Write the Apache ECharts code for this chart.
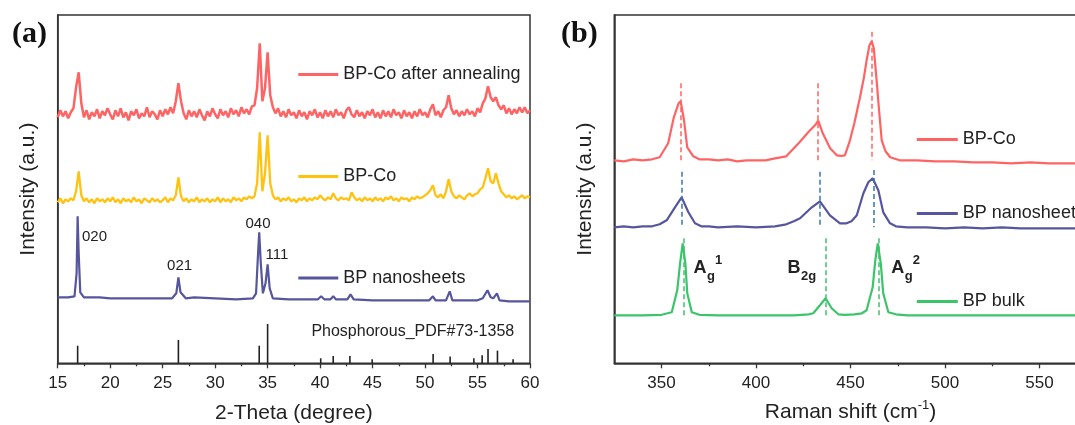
<!DOCTYPE html>
<html>
<head>
<meta charset="utf-8">
<script src="https://cdn.jsdelivr.net/npm/echarts@6/dist/echarts.min.js"></script>
<style>
html, body { margin: 0; padding: 0; background: #fff; overflow: hidden; }
#chart { width: 1075px; height: 425px; }
</style>
</head>
<body>
<div id="chart"></div>
<script>
// ---------- (a) XRD ----------
// intensities read on a 2-theta grid: 15 .. 60 every 0.25 deg
var xrdStart = 15
var xrdStep = 0.25
var xrdAnnealed = [
  246,253,247,252,245,251,255,276,291,260,246,253,244,251,247,254,245,252,248,255, // 15
  249,244,253,247,255,246,251,243,252,248,254,245,250,247,256,246,252,249,244,253, // 20
  247,254,249,256,250,262,280,262,250,244,253,247,252,246,254,248,243,252,247,255, // 25
  249,245,254,248,252,246,255,249,253,247,256,250,254,249,257,258,275,320,262,275, // 30
  311,268,256,250,255,247,252,246,254,248,251,245,253,247,251,244,252,248,254,246, // 35
  251,245,253,247,252,246,254,248,251,245,253,256,249,246,253,247,251,245,252,248, // 40
  254,246,251,245,253,247,252,246,254,248,251,245,253,247,251,245,252,247,254,248, // 45
  251,246,254,259,248,252,246,253,256,268,255,249,253,247,252,248,254,249,252,247, // 50
  255,251,260,265,277,266,262,266,258,254,258,250,255,249,254,250,256,251,256,250, // 55
  253
]
var xrdBPCo = [
  161,165,160,164,162,165,163,172,192,168,162,165,161,164,160,165,162,164,161,165,
  162,166,161,164,160,165,162,164,161,166,162,164,160,165,163,161,165,162,164,161,
  163,166,161,165,163,168,186,167,162,165,161,164,162,166,161,164,162,165,161,164,
  162,166,161,165,162,164,161,166,163,165,162,166,164,167,165,167,180,231,172,190,
  228,180,168,164,166,162,165,163,166,162,164,161,165,163,166,162,165,163,166,164,
  168,165,163,166,164,170,165,163,166,164,165,163,171,166,163,165,162,166,163,165,
  162,166,163,165,162,166,164,167,163,165,162,166,164,165,162,166,164,167,165,166,
  168,170,173,178,168,166,169,165,172,184,172,167,165,168,166,164,168,170,167,169,
  170,174,176,185,195,182,180,190,180,172,169,166,168,165,167,164,166,168,165,167,
  166
]
var xrdNanosheets = [
  [15,66],[16,66],[16.6,67],[16.8,90],[16.9,147],[17.0,110],[17.15,71],[17.5,66],[19,66],[20,65],
  [22,65],[24,65],[25.9,65],[26.3,70],[26.5,86],[26.7,71],[27.2,65],[28,66],[30,65],[32,64],
  [33.6,65],[33.9,70],[34.1,112],[34.2,131],[34.35,100],[34.55,70],[34.8,80],[35.0,99],[35.2,75],[35.5,65],
  [37,64],[39.8,64],[40.1,67],[40.4,64],[41.0,64],[41.25,67],[41.5,64],[42.6,64],[42.9,69],[43.2,64],
  [45,63],[48,63],[50.4,63],[50.75,67],[51,63],[52.0,63],[52.35,72],[52.6,63],[55,63],[55.5,65],
  [55.95,73],[56.25,66],[56.5,65],[56.85,70],[57.1,63],[58,62],[60,62]
]
var pdfSticks = [
  [16.9,17.6],[26.5,23.3],[34.2,17.6],[35.0,39.3],[40.06,5],[41.25,7.3],[42.84,7.3],[44.96,4],
  [50.77,9.3],[52.39,6.7],[54.65,5],[55.44,8],[56.0,14.3],[56.9,12.7],[58.39,4]
]
var xrdPeakNames = ['020', '021', '040', '111']
var xrdPeakLabelPos = [[18.51,126.3],[26.61,97.3],[34.08,139.3],[35.89,108.3]]
var pdfLabelPos = [39.17, 31.3]

// ---------- (b) Raman ----------
var ramanBPCo = [
  [325,203],[330,202],[335,204],[340,203],[345,204],[349,206],[353.5,220],[356.5,246],[359,260],[360.1,262],
  [361.9,243],[363.6,216],[366.8,207],[370,204],[375,204],[380,203],[385,204],[390,202],[395,203],[400,203],
  [405,203],[410,205],[416,207],[423,221],[427.6,231],[431.2,238],[432.9,242.6],[435.3,230],[439.2,215],[442.7,208],
  [445,207.5],[447,208],[449.7,223],[452,240],[455,266],[457,285],[458.5,303],[460,318],[461.2,322],[462.3,315],
  [463.8,283],[465,255],[466.5,223],[468.5,212],[471,206],[476,203],[485,203],[495,202],[505,202],[515,201],
  [525,201],[535,200],[545,201],[555,200],[565,200],[575,200]
]
var ramanNanosheets = [
  [325,136],[330,137],[335,136],[340,137],[345,137],[349,139],[352.7,143],[357.1,156],[360.6,166],[364.2,151],
  [367.7,140],[371,137],[375,137],[380,136],[390,137],[400,136],[410,137],[416,139],[420,142],[423.3,145],
  [429.5,156],[433.8,162],[439.1,148],[444.4,140],[447.9,140],[450.5,142],[453.3,148],[456.8,170],[459.4,181],[461.7,185],
  [464.7,173],[467.3,151],[470.9,140],[474,137],[480,136],[490,136],[500,135],[510,136],[520,135],[530,136],
  [540,135],[550,135],[560,135],[575,135]
]
var ramanBulk = [
  [325,48],[340,48],[350,48.5],[355.4,51],[358.3,73],[359.8,100],[361.2,120],[362.6,100],[363.6,70],[366,51],
  [370,48.5],[380,48],[400,48],[420,48],[428,49],[430.3,50],[433.8,58],[436.8,65],[440,55],[443.5,49],
  [447,48.5],[452,49],[456,50],[458.5,53],[461.7,76],[463.1,103],[464.4,120],[466,100],[467.3,70],[470,51],
  [474,49],[480,48],[500,48],[525,48],[550,48],[575,48]
]
// dashed guides: peak position, top, bottom
var guidesBPCo = [[360.4,280,203],[432.7,280,203],[461.2,331.6,203]]
var guidesNanosheets = [[360.8,191.6,136],[433.8,191.6,136],[462.1,193.3,136]]
var guidesBulk = [[361.5,125,47],[436.8,125,47],[464.8,125,47]]
// Raman mode labels: main letter, subscript, superscript, position
var modeLabels = [
  ['A', 'g', '1', 366.9, 95.3],
  ['B', '2g', '', 416.6, 95.3],
  ['A', 'g', '2', 471.6, 95.3]
]
var ramanTicks = [350, 400, 450, 500, 550]
var ramanMinorTicks = [375, 425, 475, 525]

var RED = '#FF6464', YEL = '#FFC20E', BLU = '#56569E', GRN = '#3CC46A', DBLU = '#3B74B8'
var FONT = '"Liberation Sans", Arial, sans-serif'
var AX = '#333'

function onGrid(arr) {
  return arr.map(function (v, i) { return [xrdStart + i * xrdStep, v] })
}
function guideLines(g) {
  return g.map(function (d) { return [{ coord: [d[0], d[1]] }, { coord: [d[0], d[2]] }] })
}
function lineSeries(name, data, color, width, xi, yi) {
  return {
    name: name, type: 'line', data: data, xAxisIndex: xi, yAxisIndex: yi,
    symbol: 'none', lineStyle: { color: color, width: width }, itemStyle: { color: color },
    z: 3
  }
}
function legendAt(name, left, yc, w, fmt) {
  var l = {
    data: [name], left: left, top: yc - 10, padding: 0, itemWidth: w, itemHeight: 20,
    lineStyle: { width: 3 }, itemStyle: { opacity: 0, borderWidth: 0 },
    textStyle: { fontSize: 18, color: '#222', fontFamily: FONT },
    selectedMode: false
  }
  if (fmt) l.formatter = fmt
  return l
}
var stripRaman = function (n) { return n.replace(' (Raman)', '') }

var chart = echarts.init(document.getElementById('chart'))
var xBase = {
  type: 'value', splitLine: { show: false },
  axisLine: { show: true, onZero: false, lineStyle: { color: AX, width: 1.5 } },
  axisTick: { length: 5, lineStyle: { color: AX, width: 1.3 } },
  axisLabel: { fontSize: 17, color: '#222', margin: 12, fontFamily: FONT },
  nameLocation: 'middle', nameGap: 39,
  nameTextStyle: { fontSize: 21, color: '#222', fontFamily: FONT }
}
var yBase = {
  type: 'value', min: 0, max: 348.3, splitLine: { show: false },
  axisLine: { show: true, lineStyle: { color: AX, width: 1.5 } },
  axisTick: { show: false }, axisLabel: { show: false },
  name: 'Intensity (a.u.)', nameLocation: 'middle', nameGap: 19,
  nameTextStyle: { fontSize: 21, color: '#222', fontFamily: FONT }
}

chart.setOption({
  animation: false,
  textStyle: { fontFamily: FONT },
  grid: [
    { left: 57.7, top: 15, width: 472.3, height: 348.3, show: true, borderColor: AX, borderWidth: 1.5, outerBoundsMode: 'none' },
    { left: 614.3, top: 15, width: 472.5, height: 348.3, show: true, borderColor: AX, borderWidth: 1.5, outerBoundsMode: 'none' }
  ],
  xAxis: [
    Object.assign({}, xBase, {
      gridIndex: 0, min: 15, max: 60, interval: 5, name: '2-Theta (degree)',
      minorTick: { show: true, splitNumber: 2, length: 3, lineStyle: { color: AX, width: 1.3 } }
    }),
    Object.assign({}, xBase, {
      gridIndex: 1, min: 325, max: 575, nameGap: 36,
      axisTick: { length: 5, customValues: ramanTicks, lineStyle: { color: AX, width: 1.3 } },
      axisLabel: { fontSize: 17, color: '#222', margin: 12, fontFamily: FONT, customValues: ramanTicks },
      name: '{n|Raman shift (cm}{s|-1}{n|)}',
      nameTextStyle: {
        fontSize: 21, color: '#222', fontFamily: FONT,
        rich: {
          n: { fontSize: 21, color: '#222', fontFamily: FONT, lineHeight: 26 },
          s: { fontSize: 13, color: '#222', fontFamily: FONT, lineHeight: 26, verticalAlign: 'top' }
        }
      }
    }),
    {
      type: 'value', gridIndex: 1, min: 325, max: 575, position: 'bottom',
      axisLine: { show: false }, axisLabel: { show: false }, splitLine: { show: false },
      axisTick: { length: 3, customValues: ramanMinorTicks, lineStyle: { color: AX, width: 1.3 } }
    }
  ],
  yAxis: [
    Object.assign({}, yBase, { gridIndex: 0 }),
    Object.assign({}, yBase, { gridIndex: 1 })
  ],
  legend: [
    legendAt('BP-Co after annealing', 296.8, 75.5, 40),
    legendAt('BP-Co', 296.8, 177.5, 40),
    legendAt('BP nanosheets', 296.8, 279, 40),
    legendAt('BP-Co (Raman)', 915.3, 140.5, 41, stripRaman),
    legendAt('BP nanosheets (Raman)', 915.3, 214.5, 41, stripRaman),
    legendAt('BP bulk', 915.3, 302.5, 41)
  ],
  series: [
    {
      name: 'Phosphorous_PDF#73-1358', type: 'bar', data: pdfSticks, xAxisIndex: 0, yAxisIndex: 0,
      barWidth: 1.6, itemStyle: { color: '#222' }, z: 2
    },
    lineSeries('BP-Co after annealing', onGrid(xrdAnnealed), RED, 2.5, 0, 0),
    lineSeries('BP-Co', onGrid(xrdBPCo), YEL, 2.3, 0, 0),
    lineSeries('BP nanosheets', xrdNanosheets, BLU, 2.2, 0, 0),
    Object.assign(lineSeries('BP-Co (Raman)', ramanBPCo, RED, 2.2, 1, 1), {
      markLine: { silent: true, symbol: ['none', 'none'], label: { show: false },
        lineStyle: { color: RED, type: [5, 3], width: 1.5 }, data: guideLines(guidesBPCo) }
    }),
    Object.assign(lineSeries('BP nanosheets (Raman)', ramanNanosheets, BLU, 2.2, 1, 1), {
      markLine: { silent: true, symbol: ['none', 'none'], label: { show: false },
        lineStyle: { color: DBLU, type: [5, 3], width: 1.5 }, data: guideLines(guidesNanosheets) }
    }),
    Object.assign(lineSeries('BP bulk', ramanBulk, GRN, 2.2, 1, 1), {
      markLine: { silent: true, symbol: ['none', 'none'], label: { show: false },
        lineStyle: { color: GRN, type: [5, 3], width: 1.5 }, data: guideLines(guidesBulk) }
    })
  ]
})

// text annotations, placed through the axes
function txt(p, text, font, align, dx, dy) {
  return {
    type: 'text', x: p[0] + (dx || 0), y: p[1] + (dy || 0), z: 10, silent: true,
    style: { text: text, font: font, fill: '#222', align: align, verticalAlign: 'middle',
      textAlign: align, textVerticalAlign: 'middle' }
  }
}
var g = []
xrdPeakNames.forEach(function (n, i) {
  g.push(txt(chart.convertToPixel({ gridIndex: 0 }, xrdPeakLabelPos[i]), n, '15px ' + FONT, 'center'))
})
g.push(txt(chart.convertToPixel({ gridIndex: 0 }, pdfLabelPos), 'Phosphorous_PDF#73-1358', '16px ' + FONT, 'left'))
modeLabels.forEach(function (m) {
  var p = chart.convertToPixel({ gridIndex: 1 }, [m[3], m[4]])
  g.push(txt(p, m[0], 'bold 18px ' + FONT, 'left'))
  g.push(txt(p, m[1], 'bold 13px ' + FONT, 'left', 13.5, 8.5))
  if (m[2]) g.push(txt(p, m[2], 'bold 13px ' + FONT, 'left', 21.5, -7.5))
})
g.push({ type: 'text', left: 12, top: 19, style: { text: '(a)', font: 'bold 30px "Liberation Serif", "Times New Roman", serif', fill: '#111' } })
g.push({ type: 'text', left: 561, top: 19, style: { text: '(b)', font: 'bold 30px "Liberation Serif", "Times New Roman", serif', fill: '#111' } })
chart.setOption({ graphic: g })
</script>
</body>
</html>
